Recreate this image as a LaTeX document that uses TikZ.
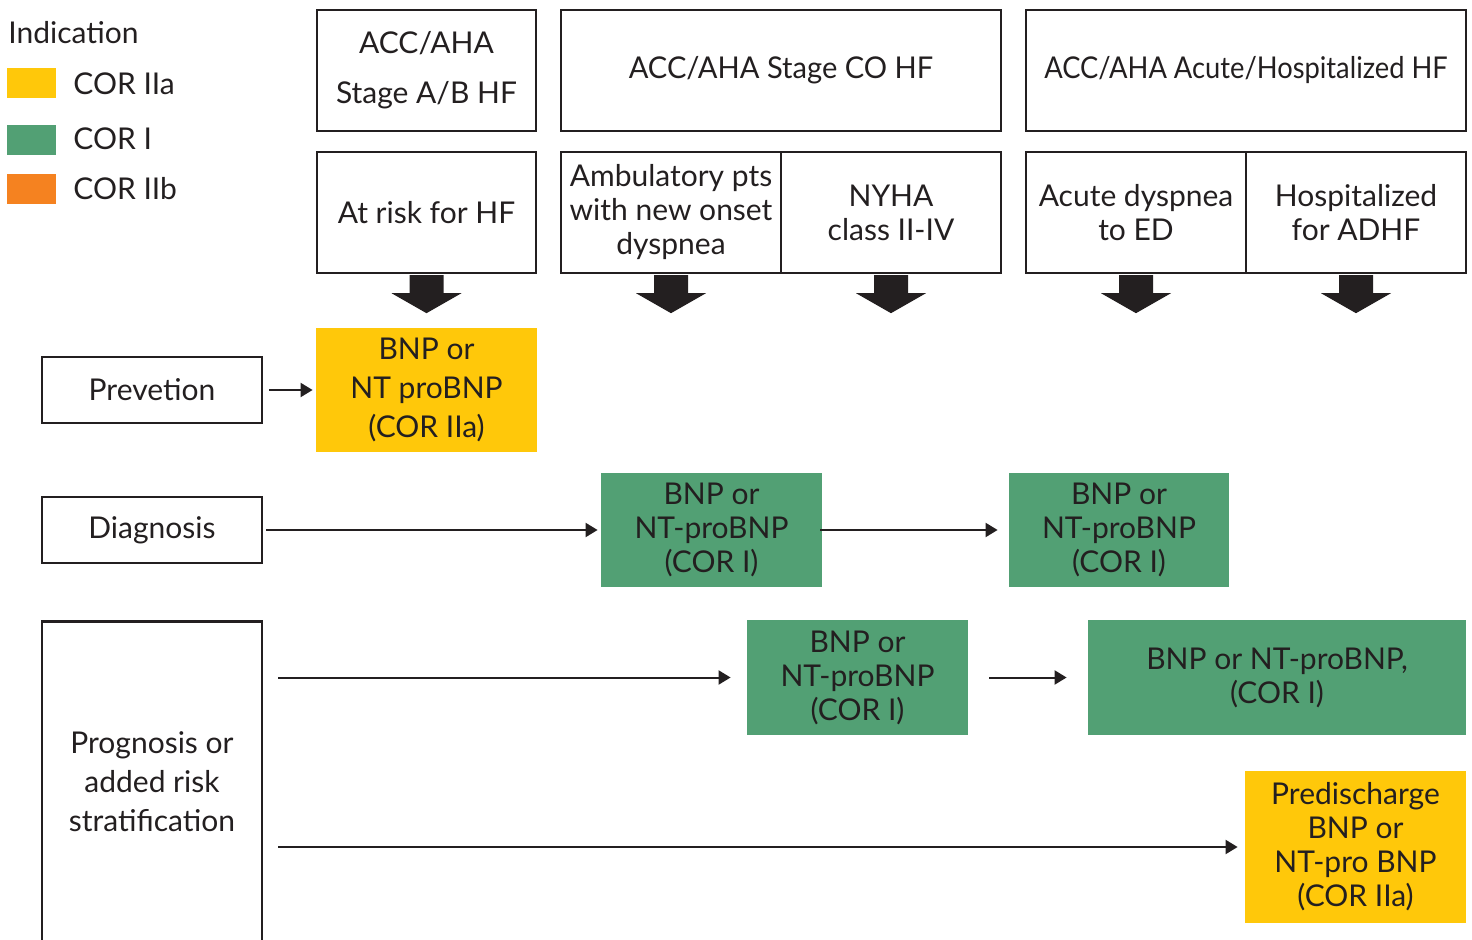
\documentclass[tikz,border=0pt]{standalone}
\usepackage{fontspec}
\setmainfont{Lato}
\usetikzlibrary{arrows.meta}
\definecolor{corIIa}{RGB}{255,200,10}
\definecolor{corI}{RGB}{82,160,116}
\definecolor{corIIb}{RGB}{245,130,32}
\definecolor{ink}{RGB}{35,31,32}
\begin{document}
\begin{tikzpicture}[x=0.5pt, y=-0.5pt,
        font={\fontsize{15}{17}\selectfont}, text=ink,
        box/.style={draw=ink, line width=1.2pt, align=center, inner sep=0pt, minimum width=110pt},
        hdr/.style={box, minimum height=60.5pt},
        side/.style={box, minimum height=33pt},
        cor/.style={align=center, inner sep=0pt, minimum width=110.5pt},
        swatch/.style={minimum width=24.5pt, minimum height=15pt, inner sep=0pt},
        link/.style={draw=ink, line width=1pt, -{Triangle[length=6pt,width=7pt]}}]
    \useasboundingbox (0,0) rectangle (1472,940);

    % legend
    \node[anchor=west, inner sep=0pt] (ind) at (8,33) {Indication};
    \node[swatch, fill=corIIa] (sw1) at (31.5,83) {};
    \node[swatch, fill=corI] (sw2) at (31.5,140) {};
    \node[swatch, fill=corIIb] (sw3) at (31.5,189) {};
    \node[anchor=west, inner sep=0pt] (lg1) at (73,84) {COR IIa};
    \node[anchor=west, inner sep=0pt] (lg2) at (73,139) {COR I};
    \node[anchor=west, inner sep=0pt] (lg3) at (73,189) {COR IIb};

    % stages
    \node[hdr, minimum width=109.5pt, font={\fontsize{15}{25}\selectfont}] (hab) at (426.5,70.5) {ACC/AHA\\Stage A/B HF};
    \node[hdr, minimum width=220pt] (hc) at (781,70.5) {\scalebox{0.97}[1]{ACC/AHA Stage CO HF}};
    \node[hdr, minimum width=220pt] (hacute) at (1246,70.5) {\scalebox{0.91}[1]{ACC/AHA Acute/Hospitalized HF}};
    \node[hdr, minimum width=109.5pt] (risk) at (426.5,212.5) {At risk for HF};
    \node[hdr] (amb) at (671,212.5) {Ambulatory pts\\with new onset\\dyspnea};
    \node[hdr] (nyha) at (891,212.5) {NYHA\\class II-IV};
    \node[hdr] (aed) at (1136,212.5) {Acute dyspnea\\to ED};
    \node[hdr] (hosp) at (1356,212.5) {Hospitalized\\for ADHF};

    \foreach \n in {risk,amb,nyha,aed,hosp}
        \fill[ink, shift={(\n.south)}] (-17,1) -- (17,1) -- (17,19) -- (35,19) -- (0,39) -- (-35,19) -- (-17,19) -- cycle;

    % indications
    \node[side] (prev) at (152,390) {Prevetion};
    \node[side] (diag) at (152,530) {Diagnosis};
    \node[box, minimum height=160pt, font={\fontsize{15}{19.5}\selectfont}] (prog) at (152,781.5) {Prognosis or\\added risk\\stratification};

    % recommendations
    \node[cor, fill=corIIa, minimum height=62pt, font={\fontsize{15}{19.5}\selectfont}] (y1) at (426.5,390) {BNP or\\NT proBNP\\(COR IIa)};
    \node[cor, fill=corI, minimum height=57pt] (g1) at (711.5,530) {BNP or\\NT-proBNP\\(COR I)};
    \node[cor, fill=corI, minimum height=57pt, minimum width=110pt] (g2) at (1119,530) {BNP or\\NT-proBNP\\(COR I)};
    \node[cor, fill=corI, minimum height=57.5pt] (g3) at (857.5,677.5) {BNP or\\NT-proBNP\\(COR I)};
    \node[cor, fill=corI, minimum height=57.5pt, minimum width=189pt] (g4) at (1277,677.5) {BNP or NT-proBNP,\\(COR I)};
    \node[cor, fill=corIIa, minimum height=76pt] (y2) at (1355.5,847) {Predischarge\\BNP or\\NT-pro BNP\\(COR IIa)};

    \draw[link, shorten <=3pt, shorten >=1.5pt] (prev) -- (y1);
    \draw[link, shorten <=1.5pt, shorten >=1.5pt] (diag) -- (g1);
    \draw[link, shorten <=-1pt, shorten >=5.5pt] (g1) -- (g2);
    \draw[link, shorten >=8pt] ([xshift=7.5pt]prog.east |- g3) -- (g3);
    \draw[link, shorten <=10.5pt, shorten >=10.5pt] (g3) -- (g4);
    \draw[link, shorten >=3.5pt] ([xshift=7.5pt]prog.east |- y2) -- (y2);
\end{tikzpicture}
\end{document}
